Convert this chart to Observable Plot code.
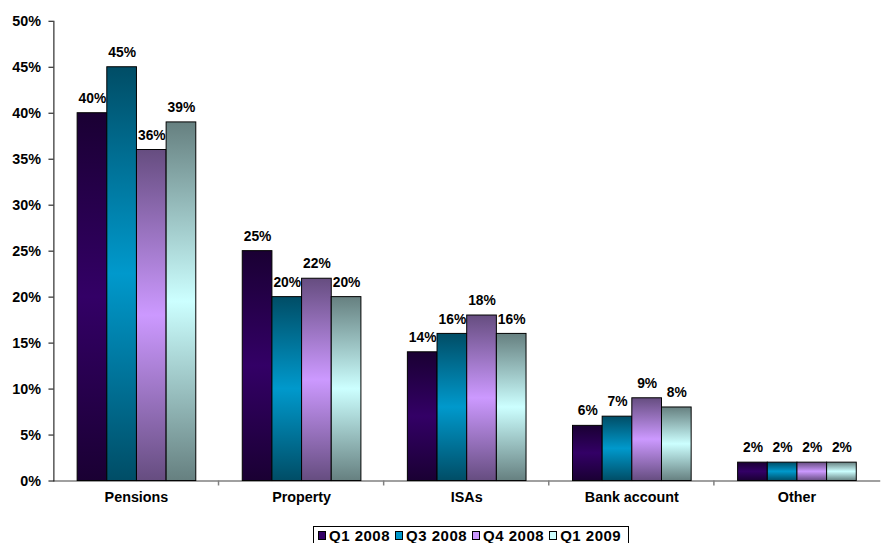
<!DOCTYPE html>
<html>
<head>
<meta charset="utf-8">
<script src="https://cdn.jsdelivr.net/npm/d3@7"></script>
<script src="https://cdn.jsdelivr.net/npm/@observablehq/plot@0.6"></script>
<style>
  html, body { margin: 0; padding: 0; background: #fff; overflow: hidden; width: 881px; height: 543px; }
  #wrap { position: relative; width: 881px; height: 543px; overflow: hidden; }
  #chart svg { display: block; }
  #legend {
    position: absolute; left: 313px; top: 526px; width: 316px; height: 19px;
    border: 1px solid #000; box-sizing: border-box; background: #fff;
    display: flex; align-items: center; padding-left: 4px;
    font: bold 15px "Liberation Sans", Arial, sans-serif; letter-spacing: 0.5px; color: #000;
  }
  .item { display: flex; align-items: center; margin-right: 5px; white-space: nowrap; line-height: 15px; }
  .sw { width: 8px; height: 9px; border: 1px solid #000; box-sizing: border-box; margin-right: 3px; }
</style>
</head>
<body>
<svg width="0" height="0" style="position:absolute">
  <defs>
    <linearGradient id="g0" x1="0" y1="0" x2="0" y2="1">
      <stop offset="0" stop-color="#1a0033"/><stop offset="0.5" stop-color="#330066"/><stop offset="1" stop-color="#1a0033"/>
    </linearGradient>
    <linearGradient id="g1" x1="0" y1="0" x2="0" y2="1">
      <stop offset="0" stop-color="#004d66"/><stop offset="0.5" stop-color="#0099cc"/><stop offset="1" stop-color="#004d66"/>
    </linearGradient>
    <linearGradient id="g2" x1="0" y1="0" x2="0" y2="1">
      <stop offset="0" stop-color="#664d80"/><stop offset="0.5" stop-color="#cc99ff"/><stop offset="1" stop-color="#664d80"/>
    </linearGradient>
    <linearGradient id="g3" x1="0" y1="0" x2="0" y2="1">
      <stop offset="0" stop-color="#668080"/><stop offset="0.5" stop-color="#ccffff"/><stop offset="1" stop-color="#668080"/>
    </linearGradient>
  </defs>
</svg>
<div id="wrap">
  <div id="chart"></div>
  <div id="legend"></div>
</div>
<script>
// ---- data ----
const categories = ["Pensions", "Property", "ISAs", "Bank account", "Other"];
const series = ["Q1 2008", "Q3 2008", "Q4 2008", "Q1 2009"];
const q1_2008 = [40, 25, 14, 6, 2];
const q3_2008 = [45, 20, 16, 7, 2];
const q4_2008 = [36, 22, 18, 9, 2];
const q1_2009 = [39, 20, 16, 8, 2];
const yTicks = [0, 5, 10, 15, 20, 25, 30, 35, 40, 45, 50];

// ---- styles ----
const gradients = ["url(#g0)", "url(#g1)", "url(#g2)", "url(#g3)"];
const swatches = ["#330066", "#0099cc", "#cc99ff", "#ccffff"];
const font = '"Liberation Sans", Arial, sans-serif';

const seriesValues = [q1_2008, q3_2008, q4_2008, q1_2009];
const rows = [];
categories.forEach((c, i) => {
  series.forEach((s, j) => rows.push({ category: c, series: s, value: seriesValues[j][i] }));
});

const plot = Plot.plot({
  width: 891,
  height: 521,
  marginLeft: 52,
  marginRight: 0,
  marginTop: 21,
  marginBottom: 35,
  style: { fontFamily: font, fontSize: "14px", fontWeight: "bold", color: "#000", background: "#fff" },
  fx: { domain: categories, padding: 0, label: null },
  x: { domain: series, paddingInner: 0, paddingOuter: 0.74, axis: null },
  y: { domain: [0, 50], label: null },
  color: { domain: series, range: gradients },
  marks: [
    Plot.frame({ anchor: "bottom", stroke: "#808080", strokeWidth: 1.5, facet: "super" }),
    Plot.barY(rows, { fx: "category", x: "series", y: "value", fill: "series", stroke: "#000", strokeWidth: 1 }),
    Plot.text(rows, { fx: "category", x: "series", y: "value", text: d => d.value + "%", dy: -15, fontWeight: "bold", fontSize: 14, fill: "#000" }),
    Plot.frame({ anchor: "left", stroke: "#000", strokeWidth: 1, facet: "super" }),
    Plot.axisY({ ticks: yTicks, tickFormat: d => d + "%", tickSize: 5, tickPadding: 8, fontWeight: "bold", fontSize: 14.5, label: null }),
    Plot.axisFx({ anchor: "bottom", tickSize: 0, tickPadding: 11, fontWeight: "bold", fontSize: 14.5, label: null })
  ]
});

// category boundary ticks on the x axis, derived from the fx scale
(function () {
  const fx = plot.scale("fx");
  const ys = plot.scale("y");
  const y0 = ys.apply(0);
  d3.select(plot).append("g")
    .attr("stroke", "#808080").attr("stroke-width", 1.5)
    .selectAll("line").data(categories.slice(1)).join("line")
    .attr("x1", c => fx.apply(c))
    .attr("x2", c => fx.apply(c))
    .attr("y1", y0).attr("y2", y0 + 5);
})();

document.getElementById("chart").appendChild(plot);

// legend
const legend = d3.select("#legend");
series.forEach((s, i) => {
  const it = legend.append("div").attr("class", "item");
  it.append("div").attr("class", "sw").style("background", swatches[i]);
  it.append("span").text(s);
});
</script>
</body>
</html>
